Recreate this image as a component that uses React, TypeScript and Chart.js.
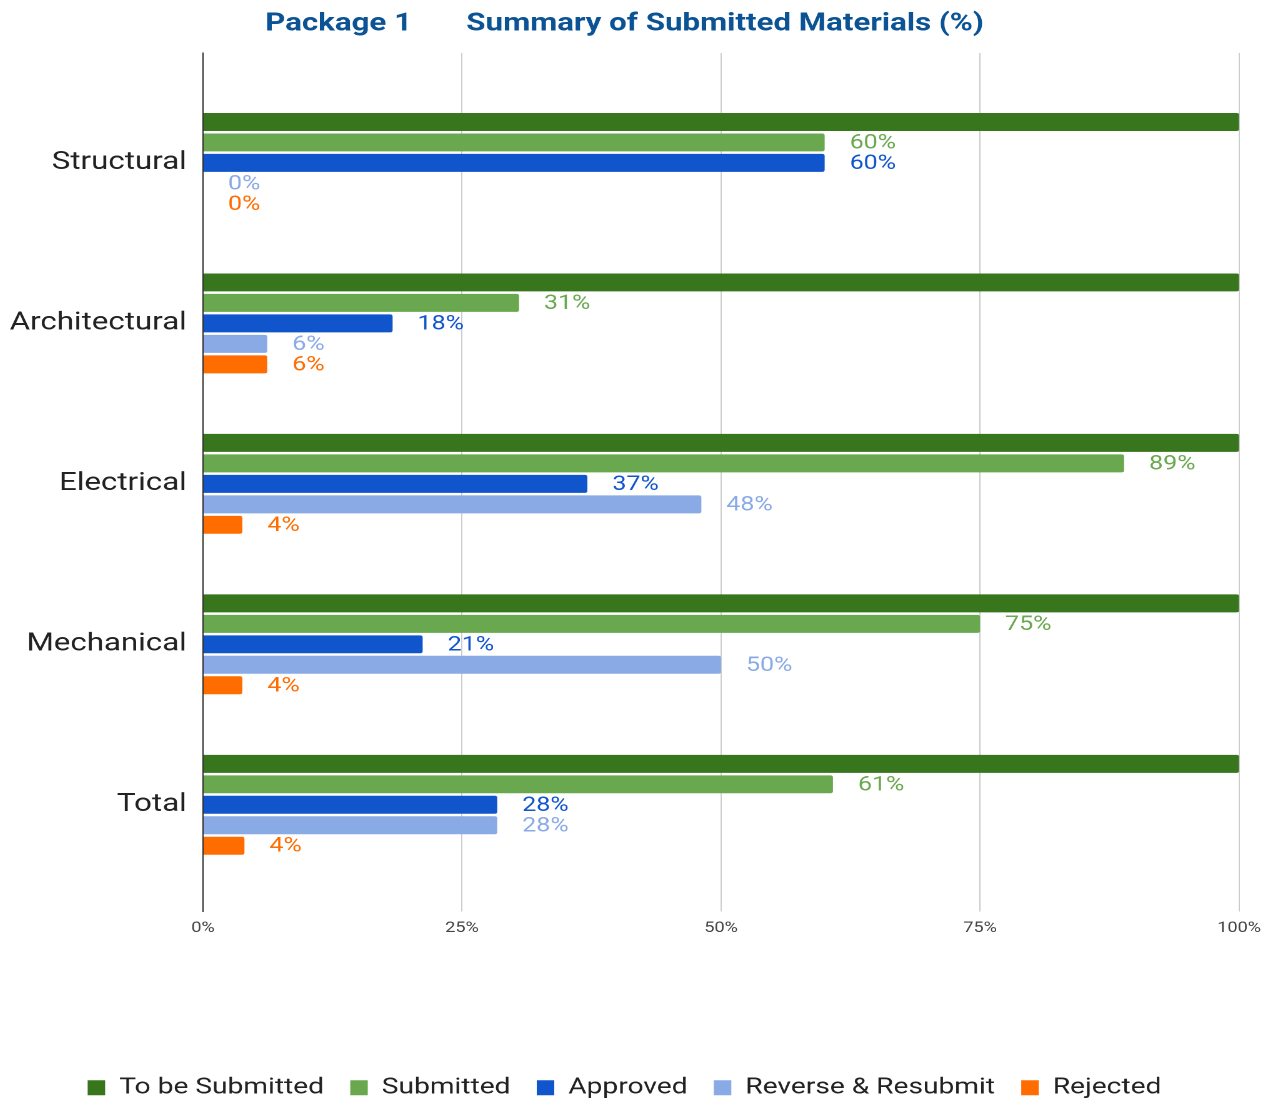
import React, { useEffect, useRef } from "react";
import { Chart, registerables } from "chart.js";

Chart.register(...registerables);

const categories = ["Structural", "Architectural", "Electrical", "Mechanical", "Total"];
const seriesNames = ["To be Submitted", "Submitted", "Approved", "Reverse & Resubmit", "Rejected"];
const toBeSubmitted = [100, 100, 100, 100, 100];
const submitted = [60, 30.5, 88.9, 75, 60.8];
const approved = [60, 18.3, 37.1, 21.2, 28.4];
const reverseResubmit = [0, 6.2, 48.1, 50, 28.4];
const rejected = [0, 6.2, 3.8, 3.8, 4];
const xTicks = [0, 25, 50, 75, 100];
const titleText = "Package 1       Summary of Submitted Materials (%)";

const seriesValues = [toBeSubmitted, submitted, approved, reverseResubmit, rejected];
const seriesColors = ["#38761d", "#6aa84f", "#1155cc", "#8aaae6", "#ff6d01"];
const showValue = [false, true, true, true, true];

const STRETCH = 1.25;

const valueLabels = {
  id: "valueLabels",
  afterDatasetsDraw(chart: any) {
    const ctx = chart.ctx;
    ctx.save();
    ctx.font = "20px Roboto";
    ctx.textBaseline = "middle";
    ctx.textAlign = "left";
    chart.data.datasets.forEach((ds: any, di: number) => {
      if (!showValue[di]) return;
      const meta = chart.getDatasetMeta(di);
      meta.data.forEach((el: any, i: number) => {
        ctx.fillStyle = seriesColors[di];
        ctx.fillText(Math.round(seriesValues[di][i]) + "%", el.x + 20, el.y + 1);
      });
    });
    ctx.restore();
  },
};

export default function App() {
  const ref = useRef<HTMLCanvasElement | null>(null);

  useEffect(() => {
    document.documentElement.style.overflow = "hidden";
    Chart.defaults.font.family = "Roboto";
    const chart = new Chart(ref.current as HTMLCanvasElement, {
      type: "bar",
      data: {
        datasets: seriesNames.map((name, di) => ({
          label: name,
          data: seriesValues[di].map((v, i) => ({ x: v, y: i })),
          backgroundColor: seriesColors[di],
          borderRadius: 2,
          categoryPercentage: 0.638,
          barPercentage: 0.878,
        })),
      },
      options: {
        indexAxis: "y",
        animation: false,
        responsive: true,
        maintainAspectRatio: false,
        devicePixelRatio: 2,
        layout: { padding: { left: 0, right: 24, top: 0, bottom: -9 } },
        scales: {
          x: {
            type: "linear",
            position: "bottom",
            min: 0,
            max: 100,
            grid: { color: "#cccccc", drawTicks: false, lineWidth: 1 },
            border: { display: false },
            ticks: {
              padding: 8,
              color: "#444444",
              font: { size: 14.5 },
              callback: (v: any) => v + "%",
            },
            afterBuildTicks: (s: any) => {
              s.ticks = xTicks.map((v) => ({ value: v }));
            },
            afterFit: (s: any) => {
              s.height = 144;
            },
          },
          y: {
            type: "linear",
            reverse: true,
            offset: false,
            min: -0.685,
            max: 4.665,
            grid: { display: false, drawTicks: false },
            border: { display: true, color: "#333333", width: 1 },
            ticks: {
              padding: 13,
              color: "#222222",
              font: { size: 25 },
              callback: (v: any) => categories[v] ?? "",
            },
            afterBuildTicks: (s: any) => {
              s.ticks = categories.map((_, i) => ({ value: i }));
            },
            afterFit: (s: any) => {
              s.width = 156;
            },
          },
        },
        plugins: {
          title: {
            display: true,
            text: titleText,
            color: "#0b5394",
            font: { size: 25, weight: "bold" },
            padding: { top: 1, bottom: 14 },
          },
          legend: {
            position: "bottom",
            labels: {
              boxWidth: 14,
              boxHeight: 15,
              padding: 21,
              color: "#222222",
              font: { size: 22.5 },
            },
          },
          tooltip: { enabled: false },
        },
      } as any,
      plugins: [valueLabels],
    });
    return () => chart.destroy();
  }, []);

  return (
    <div
      style={{
        width: 1263 / STRETCH + "px",
        height: "1092px",
        transform: `scaleX(${STRETCH})`,
        transformOrigin: "0 0",
        position: "relative",
      }}
    >
      <canvas ref={ref} />
    </div>
  );
}
